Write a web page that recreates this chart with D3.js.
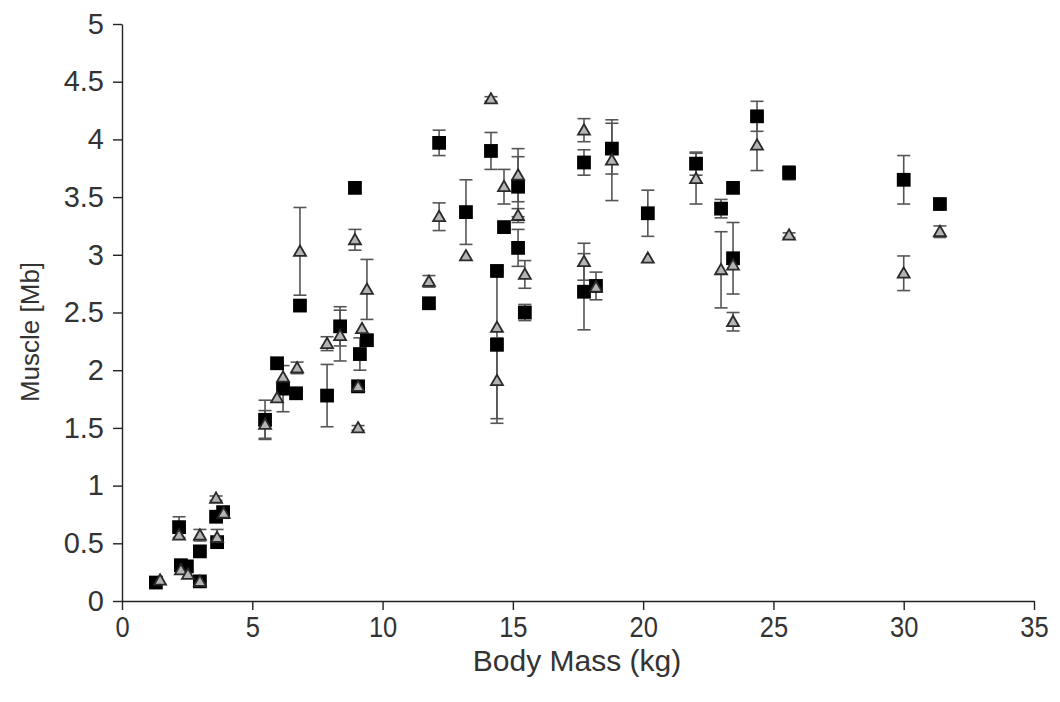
<!DOCTYPE html>
<html>
<head>
<meta charset="utf-8">
<script src="https://cdn.jsdelivr.net/npm/d3@7"></script>
<style>
  html, body { margin: 0; padding: 0; background: #fff; }
  svg { display: block; font-family: "Liberation Sans", Arial, sans-serif; }
</style>
</head>
<body>
<svg id="chart" width="1060" height="702"></svg>
<script>
// Series A (filled squares): body mass, muscle value, error (±)
const massA   = [1.30, 2.19, 2.26, 2.49, 2.99, 2.99, 3.61, 3.88, 3.65, 5.49, 5.95, 6.18, 6.68, 6.83, 7.87, 8.37, 8.94, 9.40, 9.13, 9.06,
                 11.78, 12.17, 13.20, 14.16, 14.39, 14.39, 14.66, 15.20, 15.20, 15.46, 17.73, 17.73, 18.19, 18.80, 20.18,
                 22.03, 22.99, 23.45, 23.45, 24.37, 25.60, 30.00, 31.39];
const muscleA = [0.16, 0.64, 0.31, 0.30, 0.43, 0.17, 0.73, 0.77, 0.51, 1.57, 2.06, 1.84, 1.80, 2.56, 1.78, 2.38, 3.58, 2.26, 2.14, 1.86,
                 2.58, 3.97, 3.37, 3.90, 2.86, 2.22, 3.24, 3.59, 3.06, 2.50, 3.80, 2.68, 2.73, 3.92, 3.36,
                 3.79, 3.40, 3.58, 2.97, 4.20, 3.71, 3.65, 3.44];
const errA    = [0, 0.09, 0, 0, 0, 0, 0, 0, 0, 0.17, 0, 0.20, 0, 0, 0.27, 0.17, 0, 0, 0.14, 0.05,
                 0, 0.11, 0.28, 0.16, 0, 0.64, 0, 0.26, 0.16, 0.07, 0.11, 0.33, 0.12, 0.22, 0.20,
                 0.10, 0.08, 0, 0.31, 0.13, 0.06, 0.21, 0];

// Series B (grey triangles): body mass, muscle value, error (±)
const massB   = [1.46, 2.19, 2.26, 2.53, 2.99, 2.99, 3.61, 3.90, 3.65, 5.49, 5.95, 6.18, 6.72, 6.83, 7.87, 8.37, 8.94, 9.40, 9.21, 9.06, 9.06,
                 11.78, 12.17, 13.20, 14.16, 14.39, 14.39, 14.66, 15.20, 15.20, 15.46, 17.73, 17.73, 18.19, 18.80, 20.18,
                 22.03, 22.99, 23.45, 23.45, 24.37, 25.60, 30.00, 31.39];
const muscleB = [0.18, 0.57, 0.27, 0.23, 0.57, 0.17, 0.89, 0.76, 0.55, 1.53, 1.76, 1.94, 2.02, 3.03, 2.23, 2.30, 3.13, 2.70, 2.36, 1.86, 1.50,
                 2.77, 3.33, 2.99, 4.35, 2.37, 1.91, 3.59, 3.69, 3.34, 2.83, 4.08, 2.94, 2.72, 3.82, 2.97,
                 3.66, 2.87, 2.91, 2.42, 3.95, 3.17, 2.84, 3.20];
const errB    = [0, 0, 0, 0, 0.05, 0, 0.02, 0, 0.07, 0.12, 0, 0, 0.05, 0.38, 0.06, 0.22, 0.09, 0.26, 0, 0.03, 0.02,
                 0.05, 0.12, 0, 0.02, 0, 0.37, 0.15, 0.23, 0.06, 0.12, 0.10, 0.16, 0, 0.35, 0,
                 0.22, 0.33, 0, 0.08, 0.22, 0.02, 0.15, 0.05];

const xTicks = [0, 5, 10, 15, 20, 25, 30, 35];
const yTicks = [0, 0.5, 1, 1.5, 2, 2.5, 3, 3.5, 4, 4.5, 5];
const yTickLabels = ["0", "0.5", "1", "1.5", "2", "2.5", "3", "3.5", "4", "4.5", "5"];

const xTitle = "Body Mass (kg)";
const yTitle = "Muscle [Mb]";

const svg = d3.select("#chart");
const margin = { left: 122, top: 24, right: 26, bottom: 101 };
const W = 1060 - margin.left - margin.right;
const H = 702 - margin.top - margin.bottom;

const x = d3.scaleLinear().domain([0, 35]).range([0, W]);
const y = d3.scaleLinear().domain([0, 5]).range([H, 0]);

const g = svg.append("g").attr("transform", `translate(${margin.left},${margin.top})`);

const axisColor = "#222";
const textColor = "#333";

// Axes
const xAxis = g.append("g")
  .attr("transform", `translate(0,${H})`)
  .call(d3.axisBottom(x).tickValues(xTicks).tickSize(9).tickSizeOuter(0).tickPadding(6).tickFormat(d3.format("d")));
const yAxis = g.append("g")
  .call(d3.axisLeft(y).tickValues(yTicks).tickSize(9).tickSizeOuter(0).tickPadding(9)
    .tickFormat((d, i) => yTickLabels[i]));

[xAxis, yAxis].forEach(a => {
  a.selectAll("path, line").attr("stroke", axisColor).attr("stroke-width", 1.4);
  a.selectAll("text").attr("fill", textColor);
});
yAxis.selectAll("text").style("font-size", "29px");
// narrow digits along the bottom axis
xAxis.selectAll("text").style("font-size", "30px").attr("transform", "scale(0.85,1)");

// Axis titles
svg.append("text")
  .attr("transform", `translate(${margin.left + W / 2 - 1},671)`)
  .attr("text-anchor", "middle")
  .attr("fill", textColor)
  .style("font-size", "30px")
  .text(xTitle);
svg.append("text")
  .attr("transform", `translate(39,332) rotate(-90)`)
  .attr("text-anchor", "middle")
  .attr("fill", textColor)
  .style("font-size", "26px")
  .text(yTitle);

const seriesA = massA.map((m, i) => ({ m, v: muscleA[i], e: errA[i] }));
const seriesB = massB.map((m, i) => ({ m, v: muscleB[i], e: errB[i] }));

const errColor = "#555";
const capW = 13;

function drawErrors(data) {
  const eg = g.append("g");
  const withErr = data.filter(d => d.e > 0);
  eg.selectAll("line.stem").data(withErr).join("line")
    .attr("x1", d => x(d.m)).attr("x2", d => x(d.m))
    .attr("y1", d => y(d.v + d.e)).attr("y2", d => y(d.v - d.e))
    .attr("stroke", errColor).attr("stroke-width", 1.6);
  eg.selectAll("line.capTop").data(withErr).join("line")
    .attr("x1", d => x(d.m) - capW / 2).attr("x2", d => x(d.m) + capW / 2)
    .attr("y1", d => y(d.v + d.e)).attr("y2", d => y(d.v + d.e))
    .attr("stroke", errColor).attr("stroke-width", 1.6);
  eg.selectAll("line.capBot").data(withErr).join("line")
    .attr("x1", d => x(d.m) - capW / 2).attr("x2", d => x(d.m) + capW / 2)
    .attr("y1", d => y(d.v - d.e)).attr("y2", d => y(d.v - d.e))
    .attr("stroke", errColor).attr("stroke-width", 1.6);
}

drawErrors(seriesA);
drawErrors(seriesB);

// Squares
g.append("g").selectAll("path").data(seriesA).join("path")
  .attr("transform", d => `translate(${x(d.m)},${y(d.v)})`)
  .attr("d", d3.symbol(d3.symbolSquare, 190))
  .attr("fill", "#000");

// Triangles
g.append("g").selectAll("path").data(seriesB).join("path")
  .attr("transform", d => `translate(${x(d.m)},${y(d.v) + 1})`)
  .attr("d", d3.symbol(d3.symbolTriangle, 62))
  .attr("fill", "#b4b4b4")
  .attr("stroke", "#2a2a2a")
  .attr("stroke-width", 1.8)
  .attr("stroke-linejoin", "miter");
</script>
</body>
</html>
